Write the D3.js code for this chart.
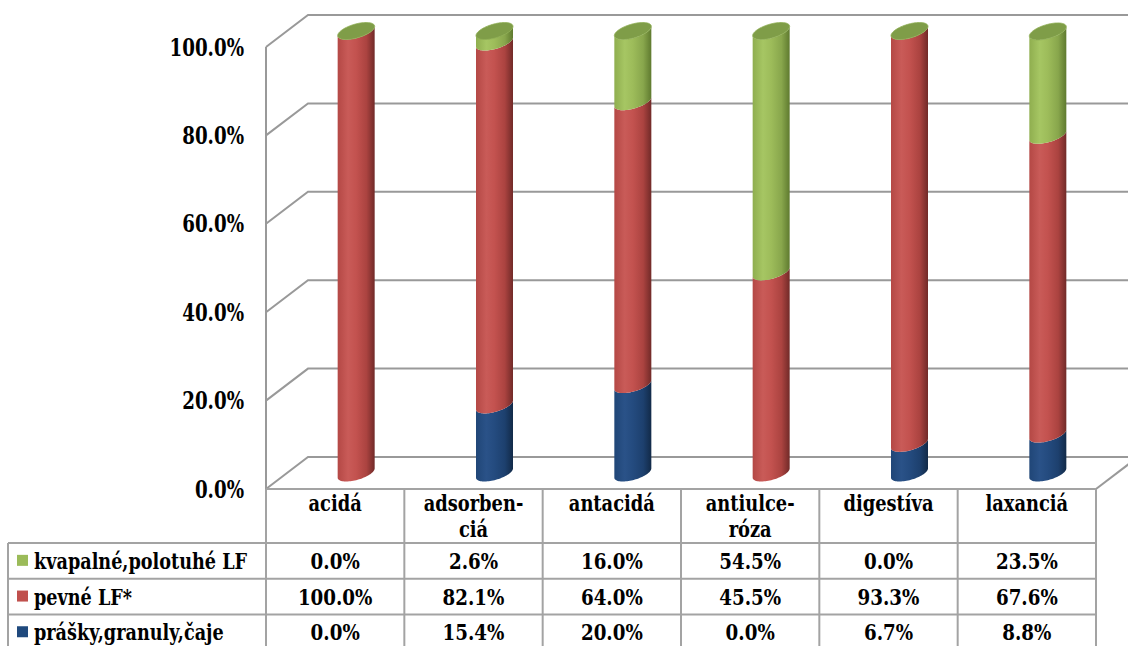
<!DOCTYPE html>
<html>
<head>
<meta charset="utf-8">
<script src="https://cdn.jsdelivr.net/npm/d3@7"></script>
<style>
  html, body { margin: 0; padding: 0; background: #fff; }
  svg { display: block; }
  text { font-family: 'DejaVu Serif', serif; font-weight: 700; fill: #000; }
</style>
</head>
<body>
<svg id="chart" width="1128" height="646"></svg>
<script>
// Categories (drug groups) and the lines they are printed on in the table header
const categories = ["acidá", "adsorbenciá", "antacidá", "antiulceróza", "digestíva", "laxanciá"];
const categoryLines = [["acidá"], ["adsorben-", "ciá"], ["antacidá"], ["antiulce-", "róza"], ["digestíva"], ["laxanciá"]];

// Series in table order (top row first)
const seriesNames = ["kvapalné,polotuhé LF", "pevné LF*", "prášky,granuly,čaje"];
const seriesColors = ["#9BBB59", "#C0504D", "#1F497D"];

// Percent shares per category
const liquidValues = [0.0, 2.6, 16.0, 54.5, 0.0, 23.5];
const solidValues  = [100.0, 82.1, 64.0, 45.5, 93.3, 67.6];
const powderValues = [0.0, 15.4, 20.0, 0.0, 6.7, 8.8];
const seriesValues = [liquidValues, solidValues, powderValues];

const yTicks = [0, 20, 40, 60, 80, 100];

const svg = d3.select("#chart");
const pct = v => d3.format(".1f")(v) + "%";

// Text helper: serif glyphs narrowed to a Times-like width
function label(parent, x, y, str, size, anchor, sx, sy) {
  return parent.append("text")
    .attr("transform", `translate(${x},${y}) scale(${sx},${sy})`)
    .attr("text-anchor", anchor).attr("font-size", size).text(str);
}

// Plot geometry: front plane of the 3-D box plus the depth offset to the back wall
const frontLeft = 266, frontRight = 1096;
const depthX = 42, depthY = -32;
const yFront = d3.scaleLinear().domain([0, 100]).range([489, 47]);
const yBack = v => yFront(v) + depthY;
const x = d3.scaleBand().domain(categories).range([frontLeft, frontRight]).padding(0);

// Gradients for the shaded cylinder sides
const defs = svg.append("defs");
const shades = {
  "#9BBB59": ["#8fae4f", "#a6c663", "#9dbc5a", "#88a64c", "#5f7a2f"],
  "#C0504D": ["#b44845", "#c95b58", "#c3524f", "#ab4340", "#712a28"],
  "#1F497D": ["#204677", "#2a5288", "#244b7f", "#1d406e", "#122a48"]
};
const offsets = [0, 0.28, 0.5, 0.78, 1];
seriesColors.forEach((c, i) => {
  const g = defs.append("linearGradient").attr("id", "grad" + i)
    .attr("x1", 0).attr("x2", 1).attr("y1", 0).attr("y2", 0);
  shades[c].forEach((s, k) => g.append("stop").attr("offset", offsets[k]).attr("stop-color", s));
});

// Gridlines: diagonal on the left side wall, then across the back wall
const gridColor = "#999999";
svg.append("g").selectAll("path").data(yTicks).join("path")
  .attr("d", v => `M${frontLeft},${yFront(v)}L${frontLeft + depthX},${yBack(v)}L${frontRight + depthX + 10},${yBack(v)}`)
  .attr("fill", "none").attr("stroke", gridColor).attr("stroke-width", 2);

// Floor right edge
svg.append("path")
  .attr("d", `M${frontRight},${yFront(0)}L${frontRight + depthX},${yBack(0)}`)
  .attr("stroke", gridColor).attr("stroke-width", 2).attr("fill", "none");

// Front vertical axis line
svg.append("line")
  .attr("x1", frontLeft).attr("x2", frontLeft)
  .attr("y1", yFront(100)).attr("y2", yFront(0))
  .attr("stroke", gridColor).attr("stroke-width", 2);

// Y tick labels (tall, narrow lettering)
const yAxisG = svg.append("g");
yTicks.forEach(v => label(yAxisG, 244, yFront(v) + 8.5, pct(v), 20.5, "end", 0.89, 1.16));

// Cylinders: stacked from the bottom series (last row) upward
const halfW = 18.5, ellH = 8.5, shear = 10;
const ellA = Math.sqrt(halfW * halfW - shear * shear);
const th0 = Math.atan2(shear, ellA);
const pt = (cx, cy, t) => [cx + ellA * Math.cos(t) + shear * Math.sin(t), cy - ellH * Math.sin(t)];
const line = d3.line();
function frontArc(cx, cy, reverse) {
  const pts = d3.range(0, 41).map(k => pt(cx, cy, th0 + Math.PI + Math.PI * k / 40));
  return reverse ? pts.reverse() : pts;
}
function sidePath(cx, y0, y1) {
  return line(frontArc(cx, y0, false).concat(frontArc(cx, y1, true))) + "Z";
}
function capPath(cx, cy) {
  return line(d3.range(0, 73).map(k => pt(cx, cy, 2 * Math.PI * k / 72))) + "Z";
}

const stackOrder = [2, 1, 0];
const cyl = svg.append("g");
categories.forEach((cat, ci) => {
  const cx = x(cat) + x.bandwidth() / 2 + depthX / 2;
  const yMid = v => yFront(v) + depthY / 2;
  let base = 0;
  stackOrder.forEach(si => {
    const v = seriesValues[si][ci];
    if (v > 0) {
      cyl.append("path")
        .attr("d", sidePath(cx, yMid(base), yMid(base + v)))
        .attr("fill", `url(#grad${si})`);
    }
    base += v;
  });
  cyl.append("path")
    .attr("d", capPath(cx, yMid(Math.min(base, 100))))
    .attr("fill", "#7f9d48").attr("stroke", "#8fae55").attr("stroke-width", 0.8);
});

// Data table below the plot
const tableColor = "#a3a3a3";
const headerTop = yFront(0), headerBottom = 543;
const rowH = 35.7;
const tableLeft = 8;
const tbl = svg.append("g").attr("stroke", tableColor).attr("stroke-width", 2);

categories.concat(["__end"]).forEach((cat, i) => {
  const xx = i < categories.length ? x(cat) : frontRight;
  tbl.append("line").attr("x1", xx).attr("x2", xx).attr("y1", headerTop).attr("y2", 646);
});
tbl.append("line").attr("x1", frontLeft).attr("x2", frontRight).attr("y1", headerTop).attr("y2", headerTop);
d3.range(0, 4).forEach(r => {
  const yy = headerBottom + r * rowH;
  tbl.append("line").attr("x1", tableLeft).attr("x2", frontRight).attr("y1", yy).attr("y2", yy);
});
tbl.append("line").attr("x1", tableLeft).attr("x2", tableLeft).attr("y1", headerBottom).attr("y2", 646);

// Header: category names
const textG = svg.append("g");
categories.forEach((cat, ci) => {
  categoryLines[ci].forEach((ln, k) => {
    label(textG, x(cat) + x.bandwidth() / 2, 511 + k * 26, ln, 21, "middle", 0.85, 1.02);
  });
});

// Rows: legend key, series name and the values
seriesNames.forEach((name, si) => {
  const yc = headerBottom + si * rowH + rowH / 2;
  svg.append("rect").attr("x", 17).attr("y", yc - 6).attr("width", 11).attr("height", 11)
    .attr("fill", seriesColors[si]);
  label(textG, 34, yc + 8, name, 21, "start", 0.84, 1.02);
  categories.forEach((cat, ci) => {
    label(textG, x(cat) + x.bandwidth() / 2, yc + 8, pct(seriesValues[si][ci]), 21, "middle", 0.87, 1.02);
  });
});
</script>
</body>
</html>
